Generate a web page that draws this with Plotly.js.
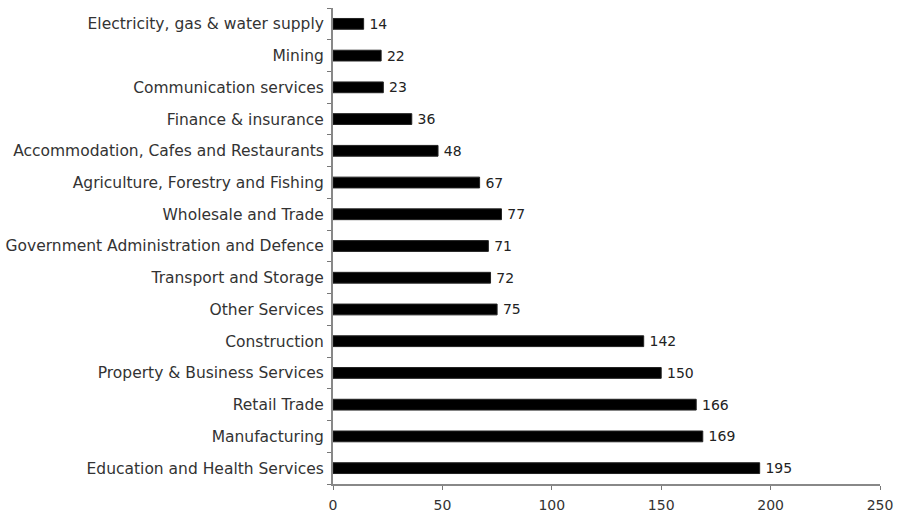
<!DOCTYPE html>
<html>
<head>
<meta charset="utf-8">
<script src="https://cdn.plot.ly/plotly-3.0.1.min.js"></script>
<style>html,body{margin:0;padding:0;background:#fff;}#chart{width:903px;height:516px;}</style>
</head>
<body>
<div id="chart"></div>
<script>
const industries = [
  "Education and Health Services",
  "Manufacturing",
  "Retail Trade",
  "Property & Business Services",
  "Construction",
  "Other Services",
  "Transport and Storage",
  "Government Administration and Defence",
  "Wholesale and Trade",
  "Agriculture, Forestry and Fishing",
  "Accommodation, Cafes and Restaurants",
  "Finance & insurance",
  "Communication services",
  "Mining",
  "Electricity, gas & water supply"
];
const values = [195, 169, 166, 150, 142, 75, 72, 71, 77, 67, 48, 36, 23, 22, 14];
const xTicks = [0, 50, 100, 150, 200, 250];

const FONT = "DejaVu Sans, Verdana, sans-serif";

const trace = {
  type: "bar",
  orientation: "h",
  y: industries,
  x: values,
  text: values.map(v => "\u2009" + v),
  textposition: "outside",
  constraintext: "none",
  cliponaxis: false,
  textfont: {family: FONT, size: 14, color: "#222"},
  marker: {color: "#000", line: {color: "#222", width: 1}},
  width: 0.34,
  hoverinfo: "none"
};

const layout = {
  width: 903, height: 516,
  margin: {l: 333, r: 23, t: 8, b: 32},
  paper_bgcolor: "#fff", plot_bgcolor: "#fff",
  showlegend: false,
  font: {family: FONT, size: 14, color: "#333"},
  xaxis: {
    range: [0, 250],
    tickvals: xTicks,
    ticktext: xTicks.map(String),
    ticks: "outside", ticklen: 4, tickcolor: "#777",
    showline: true, linecolor: "#888", linewidth: 2,
    showgrid: false, zeroline: false,
    ticklabelstandoff: 3,
    tickfont: {family: FONT, size: 14, color: "#333"}
  },
  yaxis: {
    type: "category",
    categoryorder: "array", categoryarray: industries,
    ticks: "outside", ticklen: 4, tickcolor: "#777",
    tickson: "boundaries",
    showline: true, linecolor: "#888", linewidth: 2,
    showgrid: false, zeroline: false,
    ticklabelstandoff: 4,
    tickfont: {family: FONT, size: 15.5, color: "#333"}
  },
  bargap: 0.66
};

Plotly.newPlot("chart", [trace], layout, {displayModeBar: false, staticPlot: true});
</script>
</body>
</html>
